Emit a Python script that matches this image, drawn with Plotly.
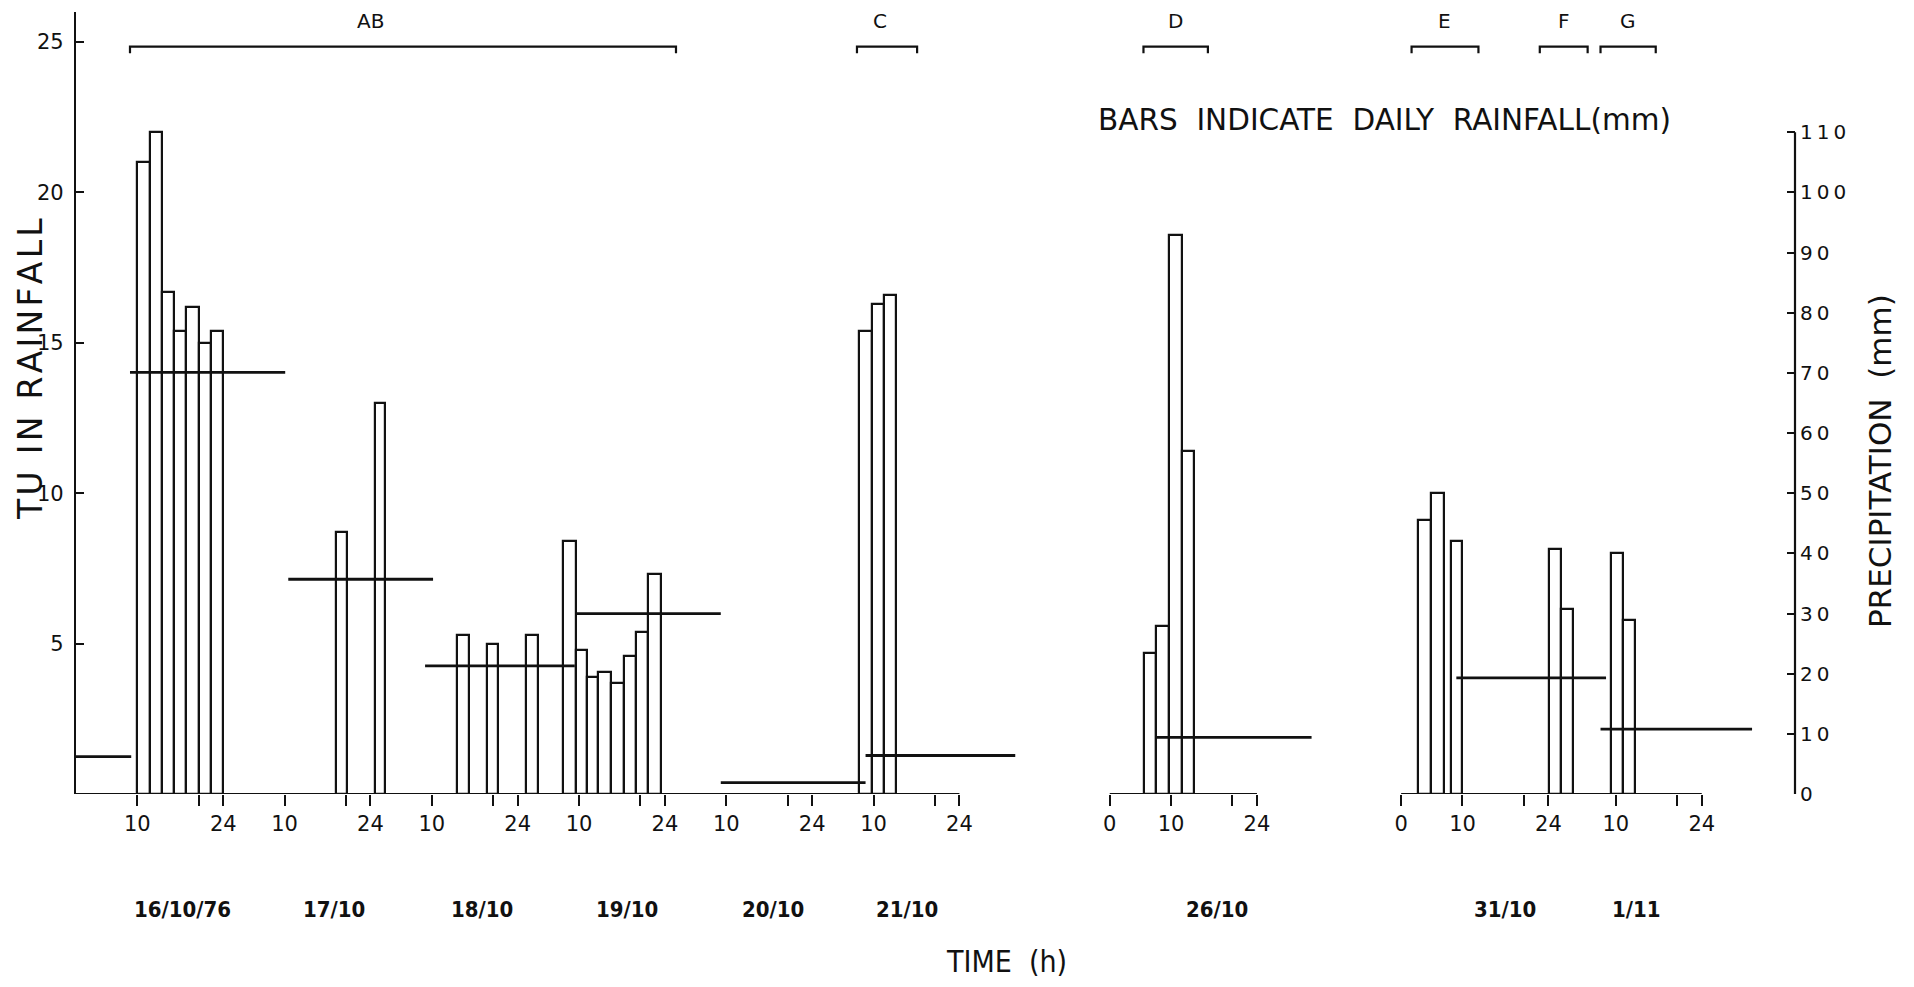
import plotly.graph_objects as go

# ---------------- data ----------------
day_names = ["16/10", "17/10", "18/10", "19/10", "20/10", "21/10", "26/10", "31/10", "1/11"]
day_labels = ["16/10/76", "17/10", "18/10", "19/10", "20/10", "21/10", "26/10", "31/10", "1/11"]
# hour on the broken time axis at which each day's 0 h sits
day_axis_start = [0, 24, 48, 72, 96, 120, 168.5, 216, 241]
# axis segments (first day, last day)
segments = [("16/10", "21/10"), ("26/10", "26/10"), ("31/10", "1/11")]

# tritium content of rain samples (bars, TU): reference day, start hour, end hour
bar_day = (["16/10"] * 7 + ["17/10"] * 2 + ["18/10"] * 4 + ["19/10"] * 7 +
           ["21/10"] * 3 + ["26/10"] * 4 + ["31/10"] * 5 + ["1/11"] * 2)
bar_start = [10, 12, 14, 16, 18, 20, 22,
             18.3, 24.7,
             14.1, 19.0, 25.3, 31.4,
             9.5, 11.3, 13.1, 15.2, 17.3, 19.3, 21.2,
             7.7, 9.7, 11.7,
             5.6, 7.5, 9.6, 11.7,
             2.7, 4.9, 8.1, 24.1, 26.0,
             9.2, 11.1]
bar_end = [12, 14, 16, 18, 20, 22, 24,
           20.2, 26.4,
           16.1, 20.8, 27.3, 33.5,
           11.3, 13.1, 15.2, 17.3, 19.3, 21.2, 23.3,
           9.7, 11.7, 13.6,
           7.5, 9.6, 11.7, 13.8,
           4.9, 7.0, 9.9, 26.0, 28.0,
           11.1, 13.2]
bar_tu = [21.0, 22.0, 16.7, 15.4, 16.2, 15.0, 15.4,
          8.7, 13.0,
          5.3, 5.0, 5.3, 8.4,
          4.8, 3.9, 4.05, 3.7, 4.6, 5.4, 7.3,
          15.4, 16.3, 16.6,
          4.7, 5.6, 18.6, 11.4,
          9.1, 10.0, 8.4, 8.15, 6.15,
          8.0, 5.8]

# daily rainfall (mm), horizontal bars
rain_day = ["16/10", "16/10", "17/10", "18/10", "19/10", "20/10", "21/10", "26/10", "31/10", "1/11"]
rain_start = [0, 8.8, 10.6, 8.9, 9.5, 9.1, 8.7, 7.5, 9.0, 7.5]
rain_end = [9.0, 34.1, 34.2, 33.3, 33.1, 32.7, 33.1, 32.9, 33.4, 32.2]
rain_mm = [6.2, 70.1, 35.7, 21.3, 30.0, 1.9, 6.4, 9.4, 19.3, 10.8]

# sampling-period brackets
br_labels = ["AB", "C", "D", "E", "F", "G"]
br_day0 = ["16/10", "21/10", "26/10", "31/10", "31/10", "1/11"]
br_h0 = [8.8, 7.3, 5.5, 1.7, 22.6, 7.5]
br_day1 = ["19/10", "21/10", "26/10", "31/10", "31/10", "1/11"]
br_h1 = [25.8, 17.1, 16.0, 12.6, 30.4, 16.5]
br_label_h = [48.0, 11.0, 10.8, 7.0, 26.6, 12.0]   # label position, hours after br_day0

date_label_h = [17.3, 18.0, 18.1, 17.8, 17.6, 15.5, 17.5, 17.0, 13.3]

tu_ticks = [5, 10, 15, 20, 25]
mm_ticks = [0, 10, 20, 30, 40, 50, 60, 70, 80, 90, 100, 110]

# ---------------- helpers ----------------
pos = dict(zip(day_names, day_axis_start))


def T(day, h):
    return pos[day] + h


FONT = "DejaVu Sans, Liberation Sans, sans-serif"
NARROW = "DejaVu Sans Condensed, Liberation Sans Narrow, DejaVu Sans, sans-serif"
BLACK = "#111111"

fig = go.Figure()

# bars (TU)
x0s = [T(d, s) for d, s in zip(bar_day, bar_start)]
x1s = [T(d, e) for d, e in zip(bar_day, bar_end)]
fig.add_trace(go.Bar(
    x=[(a + b) / 2 for a, b in zip(x0s, x1s)],
    y=bar_tu,
    width=[b - a for a, b in zip(x0s, x1s)],
    marker=dict(color="white", line=dict(color=BLACK, width=2.2)),
    yaxis="y", showlegend=False, hoverinfo="skip"))

# daily rainfall lines (mm, right axis)
rx, ry = [], []
for d, s, e, v in zip(rain_day, rain_start, rain_end, rain_mm):
    rx += [T(d, s), T(d, e), None]
    ry += [v, v, None]
fig.add_trace(go.Scatter(x=rx, y=ry, mode="lines", yaxis="y2",
                         line=dict(color=BLACK, width=2.8),
                         showlegend=False, hoverinfo="skip"))

# brackets
BR_Y = 24.85
BR_TICK = 0.22
bx, by = [], []
for d0, h0, d1, h1 in zip(br_day0, br_h0, br_day1, br_h1):
    a, b = T(d0, h0), T(d1, h1)
    bx += [a, a, b, b, None]
    by += [BR_Y - BR_TICK, BR_Y, BR_Y, BR_Y - BR_TICK, None]
fig.add_trace(go.Scatter(x=bx, y=by, mode="lines", yaxis="y",
                         line=dict(color=BLACK, width=2.2),
                         showlegend=False, hoverinfo="skip"))
for lab, d0, lh in zip(br_labels, br_day0, br_label_h):
    fig.add_annotation(x=T(d0, lh), y=BR_Y, xref="x", yref="y", yshift=26,
                       text=lab, showarrow=False,
                       font=dict(family=FONT, size=20, color=BLACK))

# broken baseline segments + ticks
tickvals, ticktext = [], []
shapes = []
for first, last in segments:
    s, e = T(first, 0), T(last, 24)
    shapes.append(dict(type="line", xref="x", yref="y", x0=s, x1=e, y0=0, y1=0,
                       line=dict(color=BLACK, width=2.2)))
    if s > 0:
        tickvals.append(s)
        ticktext.append("0")
    i0, i1 = day_names.index(first), day_names.index(last)
    for d in day_names[i0:i1 + 1]:
        for h, t in ((10, "10"), (20, ""), (24, "24")):
            tickvals.append(T(d, h))
            ticktext.append(t)

# right axis line only up to 110 mm
shapes.append(dict(type="line", xref="paper", yref="y2", x0=1, x1=1, y0=0, y1=110,
                   line=dict(color=BLACK, width=2.2)))

# date labels
for d, lab, lh in zip(day_names, day_labels, date_label_h):
    fig.add_annotation(x=T(d, lh), y=0, xref="x", yref="paper", yshift=-115,
                       yanchor="middle", text="<b>" + lab + "</b>", showarrow=False,
                       font=dict(family=NARROW, size=22, color=BLACK))

fig.add_annotation(x=0.5415, y=0, xref="paper", yref="paper", yshift=-167,
                   yanchor="middle", text="TIME\u00a0\u00a0(h)", showarrow=False,
                   font=dict(family=NARROW, size=30, color=BLACK))

fig.add_annotation(x=0.5933, y=0.862, xref="paper", yref="paper", xanchor="left",
                   yanchor="middle",
                   text="BARS\u00a0 INDICATE\u00a0 DAILY\u00a0 RAINFALL(mm)",
                   showarrow=False, font=dict(family=FONT, size=29.5, color=BLACK))

fig.add_annotation(x=-0.0262, y=0.5435, xref="paper", yref="paper", textangle=-90,
                   xanchor="center", yanchor="middle",
                   text="\u200a".join("TU IN RAINFALL"), showarrow=False,
                   font=dict(family=FONT, size=33, color=BLACK))
fig.add_annotation(x=1.0495, y=0.426, xref="paper", yref="paper", textangle=-90,
                   xanchor="center", yanchor="middle",
                   text="PRECIPITATION\u00a0 (mm)", showarrow=False,
                   font=dict(family=FONT, size=31, color=BLACK))

# the page body adds an 8 px margin, so the figure is 16 px smaller than the window
fig.update_layout(
    width=1898, height=971, autosize=False,
    margin=dict(l=68, r=111, t=4, b=185, pad=0),
    paper_bgcolor="white", plot_bgcolor="white",
    barmode="overlay", bargap=0, showlegend=False,
    shapes=shapes,
    xaxis=dict(range=[0, 280.2], showline=False, showgrid=False, zeroline=False,
               tickmode="array", tickvals=tickvals, ticktext=ticktext,
               ticks="outside", ticklen=11, tickwidth=2, tickcolor=BLACK,
               tickfont=dict(family=FONT, size=21, color=BLACK)),
    yaxis=dict(range=[0, 26], showline=True, linewidth=2.2, linecolor=BLACK,
               showgrid=False, zeroline=False, tickmode="array", tickvals=tu_ticks,
               ticks="inside", ticklen=8, tickwidth=2, tickcolor=BLACK,
               ticklabelstandoff=6,
               tickfont=dict(family=FONT, size=21, color=BLACK)),
    yaxis2=dict(range=[0, 130], overlaying="y", side="right", showline=False,
                showgrid=False, zeroline=False, tickmode="array", tickvals=mm_ticks,
                ticktext=["\u2009".join(str(v)) for v in mm_ticks],
                ticks="inside", ticklen=8, tickwidth=2, tickcolor=BLACK,
                ticklabelstandoff=4,
                tickfont=dict(family=FONT, size=20, color=BLACK)),
)

fig.write_html("out.html")
